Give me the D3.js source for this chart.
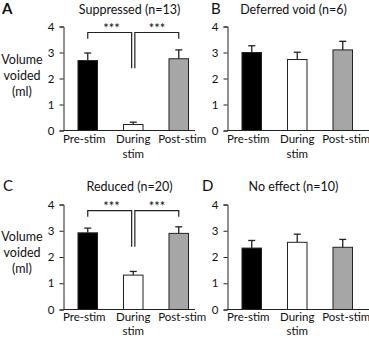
<!DOCTYPE html>
<html>
<head>
<meta charset="utf-8">
<style>
  body{margin:0;background:#fff}
  svg text{font-family:Lato,"Open Sans",sans-serif;fill:#111}
</style>
</head>
<body>
<div id="chart"></div>
<script src="https://d3js.org/d3.v7.min.js"></script>
<script>

// data
var conditions = ['Pre-stim', 'During stim', 'Post-stim'];
var yTicks = [0, 1, 2, 3, 4];

var letters = ['A', 'B', 'C', 'D'];
var titles = ['Suppressed (n=13)', 'Deferred void (n=6)', 'Reduced (n=20)', 'No effect (n=10)'];

var meanA = [2.69, 0.23, 2.76], semA = [0.29, 0.09, 0.34];
var meanB = [3.00, 2.73, 3.10], semB = [0.26, 0.28, 0.33];
var meanC = [2.92, 1.31, 2.90], semC = [0.18, 0.14, 0.25];
var meanD = [2.34, 2.56, 2.37], semD = [0.29, 0.31, 0.30];

var sigPairs = [[0, 1], [1, 2]];   // *** comparisons, panels A and C
var sigLabel = '***';

var barFills = ['#000', '#fff', '#a6a6a6'];

(function () {

  var
    W = 369,
    H = 338,
    svg = d3.select('#chart').append('svg')
      .attr('width', W)
      .attr('height', H);

  var panels = [
    {mean: meanA, sem: semA, ax: 63.5,  y0: 130.5, y4: 26.5,  sig: true,  ylab: true},
    {mean: meanB, sem: semB, ax: 227.5, y0: 130.5, y4: 26.5,  sig: false, ylab: false},
    {mean: meanC, sem: semC, ax: 63.5,  y0: 309.5, y4: 204.5, sig: true,  ylab: true},
    {mean: meanD, sem: semD, ax: 227.5, y0: 309.5, y4: 204.5, sig: false, ylab: false}
  ];
  var letterX = [2, 211, 3, 202];
  var labelShift = [-3.5, 0, 3.5];   // x labels spread a little wider than the bars

  panels.forEach(function (p, k) {
    var g = svg.append('g');
    var top = k < 2 ? 0 : 177.6;

    var y = d3.scaleLinear().domain([0, 4]).range([p.y0, p.y4]);
    var x = d3.scaleBand()
      .domain(conditions)
      .range([p.ax + 1.5, p.ax + 1.5 + 3 * 45.5])
      .paddingInner(0.571)
      .paddingOuter(0.2855);

    // panel letter + title
    g.append('text')
      .attr('x', letterX[k])
      .attr('y', top + 13.5)
      .style('font-size', '15px')
      .style('font-weight', k === 0 ? 'bold' : 'normal')
      .text(letters[k]);

    g.append('text')
      .attr('x', p.ax + 66)
      .attr('y', top + 13.5)
      .attr('text-anchor', 'middle')
      .style('font-size', '12.5px')
      .text(titles[k]);

    // y axis
    var yAxis = d3.axisLeft(y)
      .tickValues(yTicks)
      .tickSize(4)
      .tickPadding(5)
      .tickFormat(d3.format('d'));

    var ya = g.append('g')
      .attr('transform', 'translate(' + p.ax + ',0)')
      .call(yAxis);
    ya.select('.domain').attr('stroke', '#222');
    ya.selectAll('.tick line').attr('stroke', '#222');
    ya.selectAll('text')
      .style('font-size', '11.5px')
      .style('font-family', 'Lato, sans-serif')
      .attr('fill', '#111');

    // x axis baseline
    g.append('line')
      .attr('x1', p.ax)
      .attr('x2', k % 2 === 0 ? p.ax + 131.5 : W)
      .attr('y1', p.y0)
      .attr('y2', p.y0)
      .attr('stroke', '#222');

    // error bars (upper only)
    var errs = g.selectAll('.err').data(conditions).enter().append('g');
    errs.append('line')
      .attr('x1', function (d) { return x(d) + x.bandwidth() / 2; })
      .attr('x2', function (d) { return x(d) + x.bandwidth() / 2; })
      .attr('y1', function (d, i) { return y(p.mean[i]); })
      .attr('y2', function (d, i) { return y(p.mean[i] + p.sem[i]); })
      .attr('stroke', '#222')
      .attr('stroke-width', 1.3);
    errs.append('line')
      .attr('x1', function (d) { return x(d) + x.bandwidth() / 2 - 3.5; })
      .attr('x2', function (d) { return x(d) + x.bandwidth() / 2 + 3.5; })
      .attr('y1', function (d, i) { return y(p.mean[i] + p.sem[i]); })
      .attr('y2', function (d, i) { return y(p.mean[i] + p.sem[i]); })
      .attr('stroke', '#222')
      .attr('stroke-width', 1.3);

    // bars
    g.selectAll('.bar').data(conditions).enter().append('rect')
      .attr('x', function (d) { return x(d); })
      .attr('width', x.bandwidth())
      .attr('y', function (d, i) { return y(p.mean[i]); })
      .attr('height', function (d, i) { return p.y0 - y(p.mean[i]); })
      .attr('fill', function (d, i) { return barFills[i]; })
      .attr('stroke', '#222')
      .attr('stroke-width', 1);

    // x labels
    conditions.forEach(function (c, i) {
      var cx = x(c) + x.bandwidth() / 2 + labelShift[i];
      var parts = c.indexOf('During') === 0 ? c.split(' ') : [c];
      parts.forEach(function (t, j) {
        g.append('text')
          .attr('x', cx)
          .attr('y', top + 143 + j * 14.5)
          .attr('text-anchor', 'middle')
          .style('font-size', '11.5px')
          .text(t);
      });
    });

    // y label
    if (p.ylab) {
      ['Volume', 'voided', '(ml)'].forEach(function (t, j) {
        g.append('text')
          .attr('x', 22)
          .attr('y', top + 63.5 + j * 16)
          .attr('text-anchor', 'middle')
          .style('font-size', '12.5px')
          .text(t);
      });
    }

    // significance brackets
    if (p.sig) {
      var hy = y(3.77), ey = y(3.53), my = y(2.39);
      sigPairs.forEach(function (pr) {
        var a = x(conditions[pr[0]]) + x.bandwidth() / 2;
        var b = x(conditions[pr[1]]) + x.bandwidth() / 2;
        var mid = pr[0] === 1;
        var xa = mid ? a + 1.6 : a;
        var xb = mid ? b : b - 1.6;
        var ya1 = mid ? my : ey;
        var yb1 = mid ? ey : my;
        g.append('path')
          .attr('d', 'M' + xa + ',' + ya1 + 'V' + hy + 'H' + xb + 'V' + yb1)
          .attr('fill', 'none')
          .attr('stroke', '#222')
          .attr('stroke-width', 1.2);
        g.append('text')
          .attr('x', (a + b) / 2 + 1)
          .attr('y', hy + 0.5)
          .attr('text-anchor', 'middle')
          .style('font-size', '13px')
          .text(sigLabel);
      });
    }
  });

})();
</script>
</body>
</html>
